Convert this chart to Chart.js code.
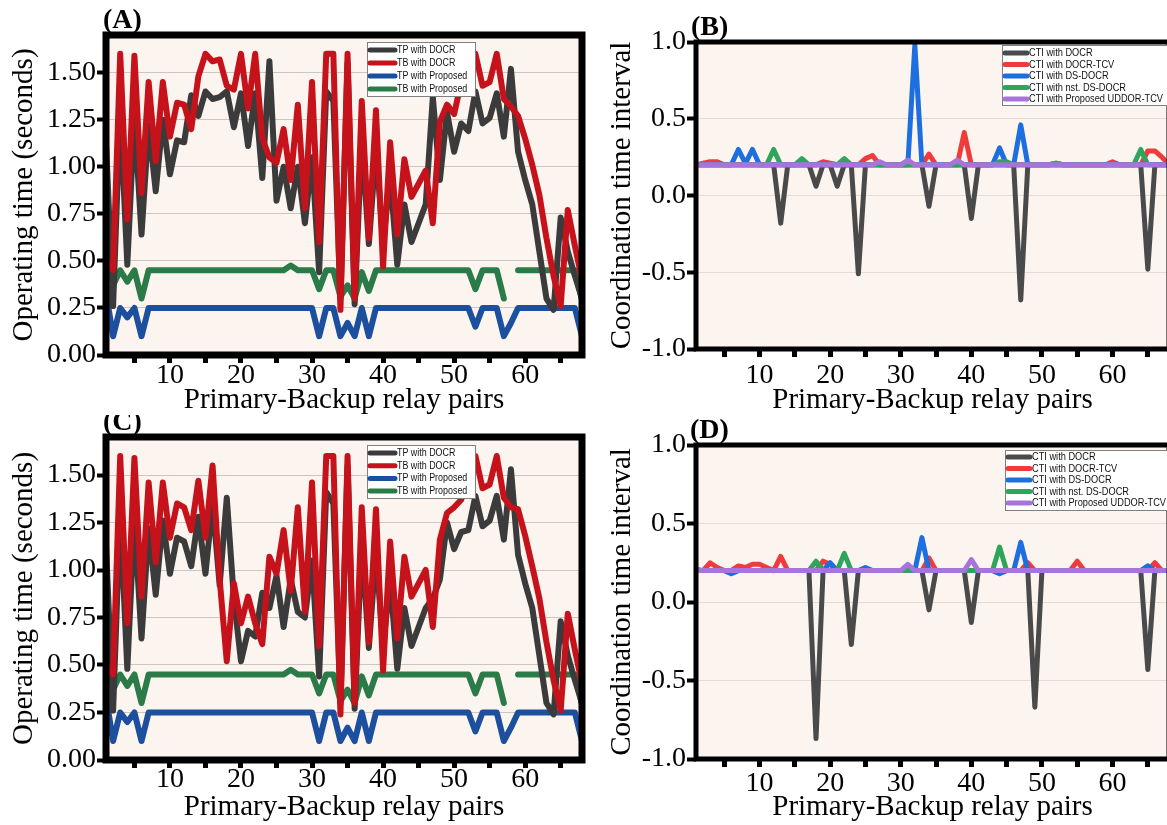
<!DOCTYPE html>
<html>
<head>
<meta charset="utf-8">
<script src="https://cdn.jsdelivr.net/npm/chart.js@4.4.0/dist/chart.umd.min.js"></script>
<style>
html, body { margin: 0; padding: 0; background: #fff; overflow: hidden; width: 1167px; height: 825px; }
canvas { position: absolute; }
</style>
</head>
<body>
<canvas id="chartA" width="590" height="415" style="left:0px;top:0px"></canvas>
<canvas id="chartB" width="590" height="415" style="left:590px;top:0px"></canvas>
<canvas id="chartC" width="590" height="410" style="left:0px;top:415px"></canvas>
<canvas id="chartD" width="590" height="410" style="left:590px;top:415px"></canvas>
<script>
// relay pair numbers (x axis)
const pairs = [1,2,3,4,5,6,7,8,9,10,11,12,13,14,15,16,17,18,19,20,
  21,22,23,24,25,26,27,28,29,30,31,32,33,34,35,36,37,38,39,40,
  41,42,43,44,45,46,47,48,49,50,51,52,53,54,55,56,57,58,59,60,
  61,62,63,64,65,66,67,68];

// (A) operating times
const tpDocrA = [1.13,0.26,1.30,0.48,1.27,0.64,1.22,0.87,1.25,0.96,
  1.14,1.13,1.38,1.27,1.40,1.36,1.37,1.40,1.21,1.39,
  1.11,1.39,0.94,1.56,0.82,1.00,0.78,1.00,0.70,1.05,
  0.44,1.40,1.35,0.30,1.55,0.27,1.15,0.59,1.10,0.60,
  0.95,0.48,0.80,0.60,0.70,0.80,1.37,0.93,1.29,1.08,
  1.23,1.19,1.40,1.23,1.26,1.39,1.16,1.52,1.08,0.93,
  0.80,0.55,0.30,0.24,0.73,0.55,0.42,0.30];
const tbDocrA = [0.50,0.45,1.60,0.72,1.59,0.86,1.45,1.03,1.45,1.16,
  1.34,1.33,1.20,1.48,1.60,1.56,1.57,1.43,1.41,1.60,
  1.31,1.60,1.15,1.05,1.02,1.20,0.93,1.33,0.78,1.45,
  0.60,1.60,1.60,0.24,1.60,0.30,1.35,0.62,1.30,0.47,
  1.13,0.64,1.04,0.84,0.91,0.98,0.70,1.24,1.33,1.28,
  1.45,1.52,1.60,1.43,1.45,1.60,1.36,1.32,1.27,1.15,
  1.01,0.85,0.62,0.42,0.26,0.77,0.58,0.40];
const tpProp = [0.33,0.10,0.25,0.20,0.25,0.10,0.25,0.25,0.25,0.25,
  0.25,0.25,0.25,0.25,0.25,0.25,0.25,0.25,0.25,0.25,
  0.25,0.25,0.25,0.25,0.25,0.25,0.25,0.25,0.25,0.25,
  0.10,0.25,0.25,0.10,0.17,0.10,0.25,0.10,0.25,0.25,
  0.25,0.25,0.25,0.25,0.25,0.25,0.25,0.25,0.25,0.25,
  0.25,0.25,0.15,0.25,0.25,0.25,0.10,0.17,0.25,0.25,
  0.25,0.25,0.25,0.25,0.25,0.25,0.25,0.10];
const tbProp = [0.30,0.37,0.45,0.39,0.45,0.30,0.45,0.45,0.45,0.45,
  0.45,0.45,0.45,0.45,0.45,0.45,0.45,0.45,0.45,0.45,
  0.45,0.45,0.45,0.45,0.45,0.45,0.475,0.45,0.45,0.45,
  0.35,0.45,0.45,0.31,0.37,0.30,0.44,0.34,0.45,0.45,
  0.45,0.45,0.45,0.45,0.45,0.45,0.45,0.45,0.45,0.45,
  0.45,0.45,0.35,0.45,0.45,0.45,0.30,null,0.45,0.45,
  0.45,0.45,0.45,0.45,0.45,0.45,0.45,0.29];

// (C) operating times
const tpDocrC = [1.13,0.26,1.30,0.48,1.27,0.64,1.22,0.87,1.26,0.98,
  1.17,1.15,1.02,1.28,0.98,1.35,0.92,1.38,0.85,0.52,
  0.68,0.65,0.88,0.80,0.97,0.70,0.95,0.78,0.75,1.05,
  0.44,1.41,1.35,0.30,1.55,0.27,1.15,0.59,1.10,0.60,
  0.95,0.48,0.80,0.60,0.70,0.80,0.85,0.95,1.25,1.11,
  1.20,1.21,1.39,1.23,1.26,1.39,1.16,1.53,1.08,0.93,
  0.80,0.55,0.30,0.24,0.73,0.55,0.42,0.30];
const tbDocrC = [0.50,0.45,1.60,0.72,1.59,0.86,1.46,1.04,1.46,1.17,
  1.35,1.33,1.21,1.47,1.17,1.55,0.95,0.52,0.93,0.72,
  0.86,0.72,0.61,1.07,0.98,1.21,0.89,1.33,0.78,1.46,
  0.60,1.60,1.60,0.24,1.60,0.30,1.33,0.62,1.32,0.47,
  1.15,0.64,1.07,0.86,0.93,1.00,0.70,1.16,1.30,1.33,
  1.37,1.50,1.60,1.43,1.45,1.60,1.38,1.33,1.32,1.18,
  1.02,0.85,0.62,0.42,0.26,0.77,0.58,0.40];

// (B) coordination time intervals
const ctiDocrB = [0.20,0.20,0.20,0.20,0.20,0.20,0.20,0.20,0.20,0.20,
  0.20,0.20,-0.18,0.20,0.20,0.20,0.20,0.06,0.20,0.20,
  0.06,0.20,0.20,-0.51,0.20,0.20,0.20,0.20,0.20,0.20,
  0.20,0.20,0.20,-0.07,0.20,0.20,0.20,0.20,0.20,-0.15,
  0.20,0.20,0.20,0.20,0.20,0.20,-0.68,0.20,0.20,0.20,
  0.20,0.20,0.20,0.20,0.20,0.20,0.20,0.20,0.20,0.20,
  0.20,0.20,0.20,0.20,-0.48,0.20,0.20,0.20];
const ctiTcvB = [0.20,0.21,0.22,0.22,0.20,0.20,0.20,0.20,0.20,0.20,
  0.20,0.20,0.20,0.20,0.20,0.20,0.20,0.20,0.22,0.21,
  0.20,0.20,0.20,0.20,0.24,0.26,0.20,0.20,0.20,0.20,
  0.20,0.20,0.20,0.27,0.20,0.20,0.20,0.20,0.41,0.20,
  0.20,0.20,0.20,0.20,0.20,0.20,0.20,0.20,0.20,0.20,
  0.20,0.21,0.20,0.20,0.20,0.20,0.20,0.20,0.20,0.22,
  0.20,0.20,0.20,0.20,0.29,0.29,0.25,0.20];
const ctiDsB = [0.20,0.20,0.20,0.20,0.20,0.20,0.30,0.21,0.30,0.20,
  0.20,0.20,0.20,0.20,0.20,0.20,0.20,0.20,0.20,0.20,
  0.20,0.20,0.20,0.20,0.20,0.20,0.20,0.20,0.20,0.20,
  0.20,0.98,0.20,0.20,0.20,0.20,0.20,0.20,0.20,0.20,
  0.20,0.20,0.20,0.31,0.20,0.20,0.46,0.20,0.20,0.20,
  0.20,0.20,0.20,0.20,0.20,0.20,0.20,0.20,0.20,0.20,
  0.20,0.20,0.20,0.20,0.20,0.20,0.20,0.20];
const ctiNstB = [0.20,0.20,0.20,0.20,0.20,0.20,0.20,0.20,0.20,0.20,
  0.20,0.30,0.20,0.20,0.20,0.24,0.20,0.20,0.20,0.20,
  0.20,0.24,0.20,0.20,0.20,0.20,0.20,0.20,0.20,0.20,
  0.20,0.20,0.20,0.20,0.20,0.20,0.20,0.20,0.20,0.20,
  0.20,0.20,0.20,0.22,0.22,0.20,0.20,0.20,0.20,0.20,
  0.20,0.21,0.20,0.20,0.20,0.20,0.20,0.20,0.20,0.20,
  0.20,0.20,0.20,0.30,0.20,0.20,0.20,0.20];
const ctiPropB = [0.20,0.20,0.20,0.20,0.20,0.20,0.20,0.20,0.20,0.20,
  0.20,0.20,0.20,0.20,0.20,0.20,0.20,0.20,0.20,0.20,
  0.20,0.20,0.20,0.20,0.20,0.20,0.22,0.20,0.20,0.20,
  0.23,0.20,0.20,0.20,0.20,0.20,0.20,0.23,0.20,0.20,
  0.20,0.20,0.20,0.20,0.20,0.20,0.20,0.20,0.20,0.20,
  0.20,0.20,0.20,0.20,0.20,0.20,0.20,0.20,0.20,0.20,
  0.20,0.20,0.20,0.20,0.20,0.20,0.20,0.20];

// (D) coordination time intervals
const ctiDocrD = [0.20,0.20,0.20,0.20,0.20,0.20,0.20,0.20,0.20,0.20,
  0.20,0.20,0.20,0.20,0.20,0.20,0.20,-0.87,0.20,0.20,
  0.20,0.20,-0.27,0.20,0.20,0.20,0.20,0.20,0.20,0.20,
  0.20,0.20,0.20,-0.05,0.20,0.20,0.20,0.20,0.20,-0.13,
  0.20,0.20,0.20,0.20,0.20,0.20,0.20,0.20,-0.67,0.20,
  0.20,0.20,0.20,0.20,0.20,0.20,0.20,0.20,0.20,0.20,
  0.20,0.20,0.20,0.20,-0.43,0.20,0.20,0.20];
const ctiTcvD = [0.20,0.20,0.25,0.22,0.20,0.20,0.23,0.22,0.24,0.24,
  0.22,0.20,0.29,0.20,0.20,0.20,0.20,0.20,0.26,0.24,
  0.20,0.20,0.20,0.20,0.20,0.20,0.20,0.20,0.20,0.20,
  0.20,0.20,0.20,0.28,0.20,0.20,0.20,0.20,0.20,0.20,
  0.20,0.20,0.20,0.20,0.20,0.20,0.20,0.25,0.20,0.20,
  0.20,0.20,0.20,0.20,0.26,0.20,0.20,0.20,0.20,0.20,
  0.20,0.20,0.20,0.20,0.20,0.25,0.20,0.20];
const ctiDsD = [0.20,0.20,0.20,0.20,0.20,0.18,0.20,0.20,0.20,0.20,
  0.20,0.20,0.20,0.20,0.20,0.20,0.20,0.20,0.20,0.25,
  0.20,0.20,0.20,0.20,0.22,0.20,0.20,0.20,0.20,0.20,
  0.20,0.20,0.41,0.20,0.20,0.20,0.20,0.20,0.20,0.20,
  0.20,0.20,0.20,0.18,0.20,0.20,0.38,0.20,0.20,0.20,
  0.20,0.20,0.20,0.20,0.20,0.20,0.20,0.20,0.20,0.20,
  0.20,0.20,0.20,0.20,0.23,0.20,0.20,0.20];
const ctiNstD = [0.21,0.20,0.20,0.20,0.20,0.20,0.20,0.20,0.20,0.20,
  0.20,0.20,0.20,0.20,0.20,0.20,0.20,0.26,0.20,0.20,
  0.20,0.31,0.20,0.20,0.20,0.20,0.20,0.20,0.20,0.20,
  0.20,0.20,0.20,0.20,0.20,0.20,0.20,0.20,0.20,0.20,
  0.20,0.20,0.20,0.35,0.20,0.20,0.20,0.20,0.20,0.20,
  0.20,0.20,0.20,0.20,0.20,0.20,0.20,0.20,0.20,0.20,
  0.20,0.20,0.20,0.20,0.20,0.20,0.20,0.20];
const ctiPropD = [0.20,0.20,0.20,0.20,0.20,0.20,0.20,0.20,0.20,0.20,
  0.20,0.20,0.20,0.20,0.20,0.20,0.20,0.20,0.20,0.20,
  0.20,0.20,0.20,0.20,0.20,0.20,0.20,0.20,0.20,0.20,
  0.24,0.20,0.20,0.20,0.20,0.20,0.20,0.20,0.20,0.27,
  0.20,0.20,0.20,0.20,0.20,0.20,0.20,0.20,0.20,0.20,
  0.20,0.20,0.20,0.20,0.20,0.20,0.20,0.20,0.20,0.20,
  0.20,0.20,0.20,0.20,0.20,0.20,0.20,0.20];

const serif = '"Liberation Serif", "Times New Roman", serif';
Chart.defaults.font.family = serif;
Chart.defaults.color = '#000';

// pink plot background, black frame and the panel letter
const panelFrame = {
  id: 'panelFrame',
  beforeDraw(chart, args, o) {
    const a = chart.chartArea, ctx = chart.ctx;
    ctx.save();
    ctx.fillStyle = '#fcf4ef';
    ctx.fillRect(a.left, a.top, a.right - a.left, a.bottom - a.top);
    ctx.restore();
  },
  afterDatasetsDraw(chart, args, o) {
    const a = chart.chartArea, ctx = chart.ctx;
    ctx.save();
    ctx.strokeStyle = '#000';
    ctx.lineWidth = o.width;
    ctx.strokeRect(a.left, a.top, a.right - a.left, a.bottom - a.top);
    ctx.fillStyle = '#000';
    ctx.font = 'bold 28px ' + serif;
    ctx.textBaseline = 'alphabetic';
    ctx.fillText(o.letter, o.lx, o.ly);
    ctx.restore();
  }
};

// boxed legend sitting inside the plot
const legendBox = {
  id: 'legendBox',
  afterDraw(chart, args, o) {
    const ctx = chart.ctx;
    ctx.save();
    ctx.fillStyle = '#fff';
    ctx.fillRect(o.x, o.y, o.w, o.h);
    ctx.strokeStyle = '#808080';
    ctx.lineWidth = 1;
    ctx.strokeRect(o.x + 0.5, o.y + 0.5, o.w, o.h);
    ctx.font = o.size + 'px "Liberation Sans", Arial, sans-serif';
    ctx.textBaseline = 'middle';
    ctx.lineCap = 'round';
    chart.data.datasets.forEach((ds, i) => {
      const y = o.y + o.first + i * o.row;
      ctx.strokeStyle = ds.borderColor;
      ctx.lineWidth = 5;
      ctx.beginPath();
      ctx.moveTo(o.x + 3, y);
      ctx.lineTo(o.x + o.line, y);
      ctx.stroke();
      ctx.fillStyle = '#111';
      ctx.save();
      ctx.translate(o.x + o.line + 2, y);
      ctx.scale(o.squeeze, 1);
      ctx.fillText(ds.label, 0, 0);
      ctx.restore();
    });
    ctx.restore();
  }
};

function series(label, values, color, order, lw) {
  return {
    label: label,
    data: values.map((v, i) => ({ x: pairs[i], y: v })),
    borderColor: color,
    backgroundColor: color,
    borderWidth: lw,
    order: order,
    pointRadius: 0,
    tension: 0,
    borderJoinStyle: 'round',
    borderCapStyle: 'round',
    spanGaps: false
  };
}

function buildChart(id, datasets, p) {
  return new Chart(document.getElementById(id), {
    type: 'line',
    data: { datasets: datasets },
    options: {
      responsive: false,
      animation: false,
      events: [],
      layout: { padding: { top: p.top, right: p.right, left: 0, bottom: 0 } },
      plugins: {
        legend: { display: false },
        tooltip: { enabled: false },
        panelFrame: p.frame,
        legendBox: p.legend
      },
      scales: {
        x: {
          type: 'linear', min: 1, max: 68,
          afterFit: s => { s.height = p.xh; },
          border: { display: false },
          grid: { drawOnChartArea: false, tickColor: '#000', tickWidth: 5, tickLength: 8 },
          ticks: {
            stepSize: 5, includeBounds: false, autoSkip: false, maxRotation: 0,
            padding: p.xpad, color: '#000', font: { size: 28 },
            callback: v => (v % 10 === 0 ? String(v) : '')
          },
          title: { display: true, text: 'Primary-Backup relay pairs', color: '#000',
                   font: { size: 29 }, padding: { top: 0, bottom: p.xtb } }
        },
        y: {
          min: p.ymin, max: p.ymax,
          afterFit: s => { s.width = 106; },
          border: { display: false },
          grid: { color: p.grid, lineWidth: 1, tickColor: '#000', tickWidth: 4, tickLength: 9 },
          ticks: {
            stepSize: p.step, includeBounds: false, padding: 1, color: '#000',
            font: { size: 28 }, callback: v => v.toFixed(p.dec)
          },
          title: { display: true, text: p.ytitle, color: '#000',
                   font: { size: 29 }, padding: { top: p.ytp, bottom: 0 } }
        }
      }
    },
    plugins: [panelFrame, legendBox]
  });
}

const colTP = '#3b3b3b', colTB = '#c5121b', colTPp = '#1c4f9e', colTBp = '#2b7b48';
const colC1 = '#4a4a4a', colC2 = '#ef3b3b', colC3 = '#1d6fe0', colC4 = '#2fa55c', colC5 = '#a774dc';

function timeSets(tp, tb) {
  return [
    series('TP with DOCR', tp, colTP, 1, 6),
    series('TB with DOCR', tb, colTB, 0, 6),
    series('TP with Proposed', tpProp, colTPp, 3, 6),
    series('TB with Proposed', tbProp, colTBp, 2, 6)
  ];
}
function ctiSets(a, b, c, d, e) {
  return [
    series('CTI with DOCR', a, colC1, 4, 5),
    series('CTI with DOCR-TCV', b, colC2, 3, 5),
    series('CTI with DS-DOCR', c, colC3, 2, 5),
    series('CTI with nst. DS-DOCR', d, colC4, 1, 5),
    series('CTI with Proposed UDDOR-TCV', e, colC5, 0, 5)
  ];
}

const timeAxis = { ymin: 0, ymax: 1.7, step: 0.25, dec: 2, ytitle: 'Operating time (seconds)', ytp: 7, grid: '#cdc5c0' };
const ctiAxis = { ymin: -1, ymax: 1, step: 0.5, dec: 1, ytitle: 'Coordination time interval', ytp: 15, grid: '#e6dad3' };

buildChart('chartA', timeSets(tpDocrA, tbDocrA), Object.assign({}, timeAxis, {
  top: 35, right: 8, xh: 60, xpad: -4, xtb: -3,
  frame: { width: 7, letter: '(A)', lx: 103, ly: 28 },
  legend: { x: 367, y: 42, w: 108, h: 54, first: 8, row: 13, line: 28, size: 11, squeeze: 0.81 }
}));
buildChart('chartB', ctiSets(ctiDocrB, ctiTcvB, ctiDsB, ctiNstB, ctiPropB), Object.assign({}, ctiAxis, {
  top: 42, right: 11, xh: 66, xpad: 2, xtb: -3,
  frame: { width: 5, letter: '(B)', lx: 101, ly: 35 },
  legend: { x: 412, y: 45, w: 165, h: 60, first: 8, row: 11.5, line: 25, size: 11, squeeze: 0.84 }
}));
buildChart('chartC', timeSets(tpDocrC, tbDocrC), Object.assign({}, timeAxis, {
  top: 22, right: 8, xh: 65, xpad: -5, xtb: 0,
  frame: { width: 7, letter: '(C)', lx: 103, ly: 15 },
  legend: { x: 367, y: 30, w: 108, h: 53, first: 8, row: 12.7, line: 28, size: 11, squeeze: 0.81 }
}));
buildChart('chartD', ctiSets(ctiDocrD, ctiTcvD, ctiDsD, ctiNstD, ctiPropD), Object.assign({}, ctiAxis, {
  top: 30, right: 11, xh: 66, xpad: 0, xtb: 0,
  frame: { width: 5, letter: '(D)', lx: 100, ly: 23 },
  legend: { x: 415, y: 35, w: 165, h: 60, first: 7, row: 11.5, line: 25, size: 11, squeeze: 0.84 }
}));
</script>
</body>
</html>
